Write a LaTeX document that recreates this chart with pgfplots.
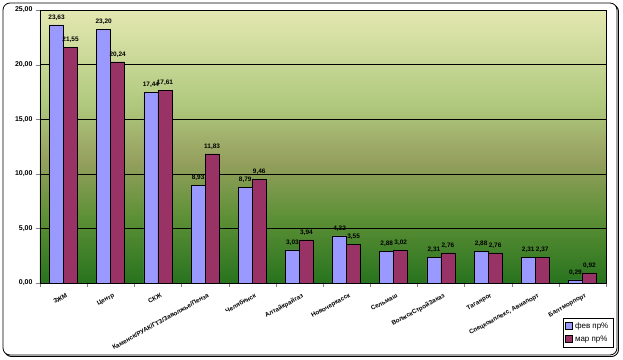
\documentclass[border=0pt]{standalone}
\usepackage{pgfplots}
\pgfplotsset{compat=1.18}
\usepackage{fontspec}
\setmainfont{Liberation Sans}
\definecolor{gA}{RGB}{40,115,30}
\definecolor{gB}{RGB}{95,145,55}
\definecolor{gC}{RGB}{150,160,95}
\definecolor{gD}{RGB}{175,200,125}
\definecolor{gE}{RGB}{228,232,178}
\definecolor{febc}{RGB}{153,153,255}
\definecolor{marc}{RGB}{153,51,102}
\pgfdeclareverticalshading{bgshade}{100bp}{color(0bp)=(gA); color(25bp)=(gA); color(37.5bp)=(gB); color(47.5bp)=(gC); color(57.5bp)=(gD); color(75bp)=(gE); color(100bp)=(gE)}
\begin{document}
\begin{tikzpicture}
\useasboundingbox (-40bp,-77bp) rectangle (583bp,283bp);
\draw[black, line width=0.9bp, rounded corners=7bp] (-35.5bp,-73.5bp) rectangle (578.5bp,278.5bp);
\draw[black, fill=white, line width=0.8bp, rounded corners=7bp] (-37bp,-72bp) rectangle (577bp,280bp);
\begin{axis}[
  at={(0,0)}, anchor=south west,
  scale only axis, width=566bp, height=273bp,
  ymin=0, ymax=25, xmin=-0.5, xmax=11.5,
  ybar=0pt, bar width=14bp,
  axis background/.style={shading=bgshade},
  ymajorgrids, grid style={black, line width=0.6bp},
  axis line style={black, line width=0.6bp},
  ytick={0,5,10,15,20,25},
  yticklabel style={font=\fontsize{7}{8}\selectfont\bfseries, /pgf/number format/.cd, fixed, fixed zerofill, precision=2, use comma},
  /pgf/number format/assume math mode=true,
  xtick={0,...,11},
  major x tick style={draw=none},
  minor xtick={-0.5,0.5,...,11.5},
  tick align=outside, tick pos=left,
  minor tick length=4bp, major tick length=4bp,
  xticklabels={ЗЖМ, Центр, СКЖ, Каменск/РУАК/ГТЗ/Заволжье/Пенза, Челябинск, Алтайкрайгаз, Новочеркасск, Сельмаш, ВолжскСтройЗаказ, Таганрог, {Спецкомплекс, Авиапорт}, Балтморпорт},
  xticklabel style={font=\fontsize{6.3}{7}\selectfont\bfseries, rotate=29, anchor=north east, inner sep=1bp, yshift=-5bp},
  nodes near coords={\pgfmathprintnumber[fixed,fixed zerofill,precision=2,use comma]{\pgfplotspointmeta}},
  nodes near coords style={font=\fontsize{6.5}{7}\selectfont\bfseries, inner sep=1.5bp, yshift=3bp},
  legend style={at={(1.0124,-0.128)}, anchor=north east, draw=black, fill=white, font=\fontsize{8}{9.5}\selectfont, row sep=2bp, inner sep=2.5bp},
  legend cell align=left,
  legend image code/.code={\draw[#1] (0bp,-3bp) rectangle (7bp,4bp);},
]
\addplot[fill=febc, draw=black, line width=0.6bp] coordinates {(0,23.63) (1,23.20) (2,17.44) (3,8.93) (4,8.79) (5,3.03) (6,4.32) (7,2.88) (8,2.31) (9,2.88) (10,2.31) (11,0.29)};
\addplot[fill=marc, draw=black, line width=0.6bp] coordinates {(0,21.55) (1,20.24) (2,17.61) (3,11.83) (4,9.46) (5,3.94) (6,3.55) (7,3.02) (8,2.76) (9,2.76) (10,2.37) (11,0.92)};
\legend{фев пр\%, мар пр\%}
\end{axis}
\end{tikzpicture}
\end{document}
